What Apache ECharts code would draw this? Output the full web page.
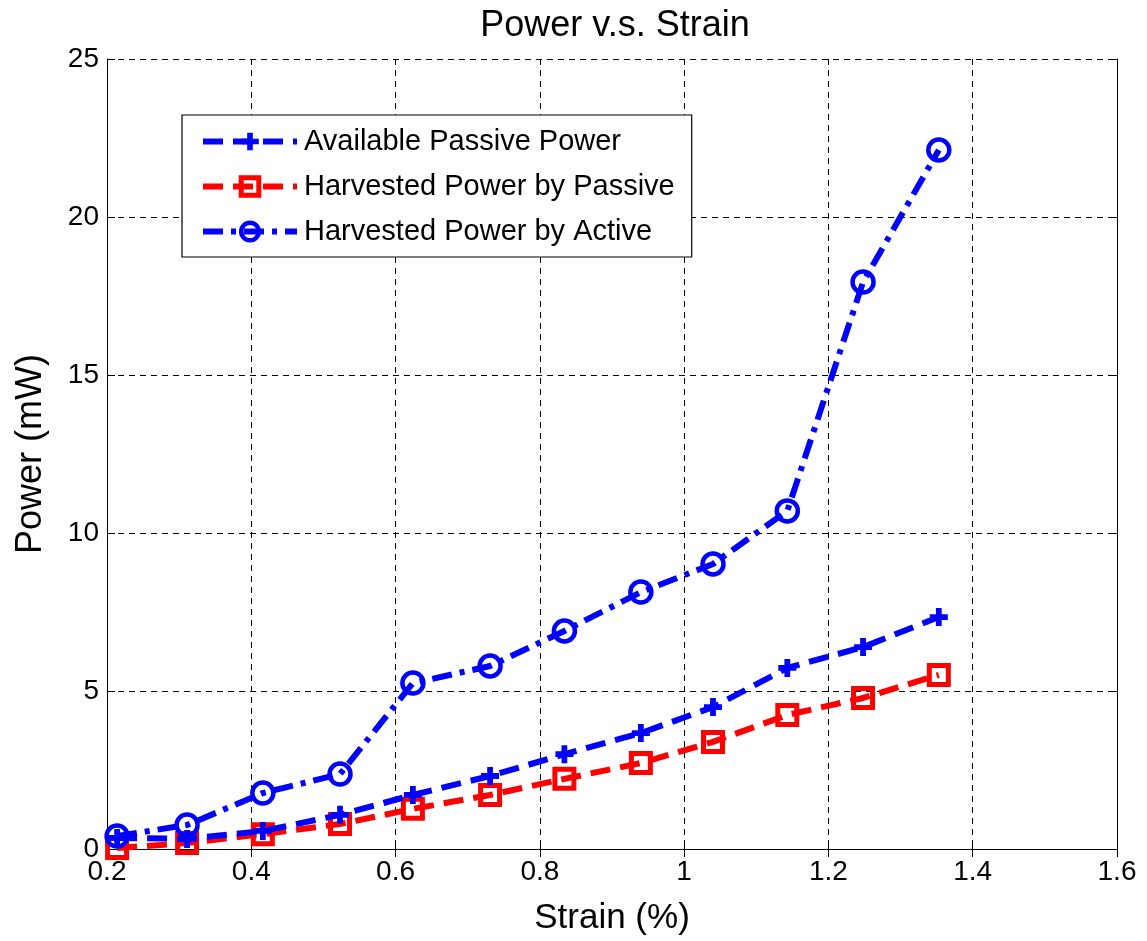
<!DOCTYPE html>
<html>
<head>
<meta charset="utf-8">
<script src="https://cdn.jsdelivr.net/npm/echarts@6/dist/echarts.min.js"></script>
<style>
  html, body { margin: 0; padding: 0; background: #fff; }
  #chart { width: 1147px; height: 941px; }
</style>
</head>
<body>
<div id="chart"></div>
<script>
// strain values (%) shared by all three series
const strain = [0.214, 0.311, 0.416, 0.523, 0.624, 0.731, 0.834, 0.940, 1.040, 1.143, 1.248, 1.353];
const availablePassive = [0.35, 0.32, 0.57, 1.08, 1.71, 2.31, 3.0, 3.67, 4.49, 5.73, 6.39, 7.34];
const harvestedPassive = [0.03, 0.19, 0.47, 0.79, 1.27, 1.71, 2.22, 2.72, 3.39, 4.24, 4.78, 5.51];
const harvestedActive = [0.41, 0.76, 1.77, 2.37, 5.25, 5.79, 6.9, 8.13, 9.02, 10.7, 17.94, 22.12];

const font = 'Liberation Sans, Arial, sans-serif';
const plusPath = 'path://M-1.6,-5H1.6V-1.6H5V1.6H1.6V5H-1.6V1.6H-5V-1.6H-1.6Z';

const pairs = (ys) => strain.map((x, i) => [x, ys[i]]);

const chart = echarts.init(document.getElementById('chart'));

// box axes (top / right) only carry the inward ticks
const boxAxis = (extra) => Object.assign({
  type: 'value',
  axisLine: { show: true, lineStyle: { color: '#000', width: 1 } },
  axisTick: { show: true, inside: true, length: 8, lineStyle: { color: '#000' } },
  axisLabel: { show: false },
  splitLine: { show: false }
}, extra);

const option = {
  backgroundColor: '#fff',
  animation: false,
  title: {
    text: 'Power v.s. Strain',
    left: 610,
    top: 3,
    textAlign: 'center',
    textStyle: { fontFamily: font, fontWeight: 'normal', fontSize: 36, color: '#000' }
  },
  grid: { left: 107, right: 30, top: 59, bottom: 92, containLabel: false, outerBoundsMode: 'none' },
  legend: {
    orient: 'vertical',
    left: 182,
    top: 115,
    padding: [12, 17, 11, 18],
    itemGap: 16,
    itemWidth: 94,
    itemHeight: 22,
    backgroundColor: '#fff',
    borderColor: '#000',
    borderWidth: 1.2,
    lineStyle: { width: 'inherit' },
    itemStyle: { borderWidth: 'inherit' },
    textStyle: { fontFamily: font, fontSize: 29, color: '#000', padding: [0, 0, 0, 2] },
    data: ['Available Passive Power', 'Harvested Power by Passive', 'Harvested Power by Active']
  },
  xAxis: [
    {
      type: 'value',
      min: 0.2,
      max: 1.6,
      interval: 0.2,
      name: 'Strain (%)',
      nameLocation: 'middle',
      nameGap: 52,
      nameTextStyle: { fontFamily: font, fontSize: 35, color: '#000' },
      axisLine: { show: true, onZero: false, lineStyle: { color: '#000', width: 1 } },
      axisTick: { show: true, inside: true, length: 8, lineStyle: { color: '#000' } },
      axisLabel: { fontFamily: font, fontSize: 28, color: '#000', margin: 9 },
      splitLine: { show: true, lineStyle: { color: '#000', type: [6, 5], width: 1 } }
    },
    boxAxis({ position: 'top', min: 0.2, max: 1.6, interval: 0.2 })
  ],
  yAxis: [
    {
      type: 'value',
      min: 0,
      max: 25,
      interval: 5,
      name: 'Power (mW)',
      nameLocation: 'middle',
      nameGap: 58,
      nameTextStyle: { fontFamily: font, fontSize: 36, color: '#000' },
      axisLine: { show: true, lineStyle: { color: '#000', width: 1 } },
      axisTick: { show: true, inside: true, length: 8, lineStyle: { color: '#000' } },
      axisLabel: { fontFamily: font, fontSize: 28, color: '#000', margin: 8 },
      splitLine: { show: true, lineStyle: { color: '#000', type: [6, 5], width: 1 } }
    },
    boxAxis({ position: 'right', min: 0, max: 25, interval: 5 })
  ],
  series: [
    {
      name: 'Available Passive Power',
      type: 'line',
      data: pairs(availablePassive),
      symbol: plusPath,
      symbolSize: 18,
      itemStyle: { color: '#0000ff' },
      lineStyle: { color: '#0000ff', width: 6, type: [20, 10] },
      z: 3
    },
    {
      name: 'Harvested Power by Passive',
      type: 'line',
      data: pairs(harvestedPassive),
      symbol: 'rect',
      symbolSize: 19,
      itemStyle: { color: 'transparent', borderColor: '#ff0000', borderWidth: 5 },
      lineStyle: { color: '#ff0000', width: 6, type: [20, 10] },
      z: 2
    },
    {
      name: 'Harvested Power by Active',
      type: 'line',
      data: pairs(harvestedActive),
      symbol: 'circle',
      symbolSize: 21,
      itemStyle: { color: 'transparent', borderColor: '#0000ff', borderWidth: 4.5 },
      lineStyle: { color: '#0000ff', width: 6, type: [20, 8, 5, 8] },
      z: 4
    }
  ]
};

chart.setOption(option);
</script>
</body>
</html>
